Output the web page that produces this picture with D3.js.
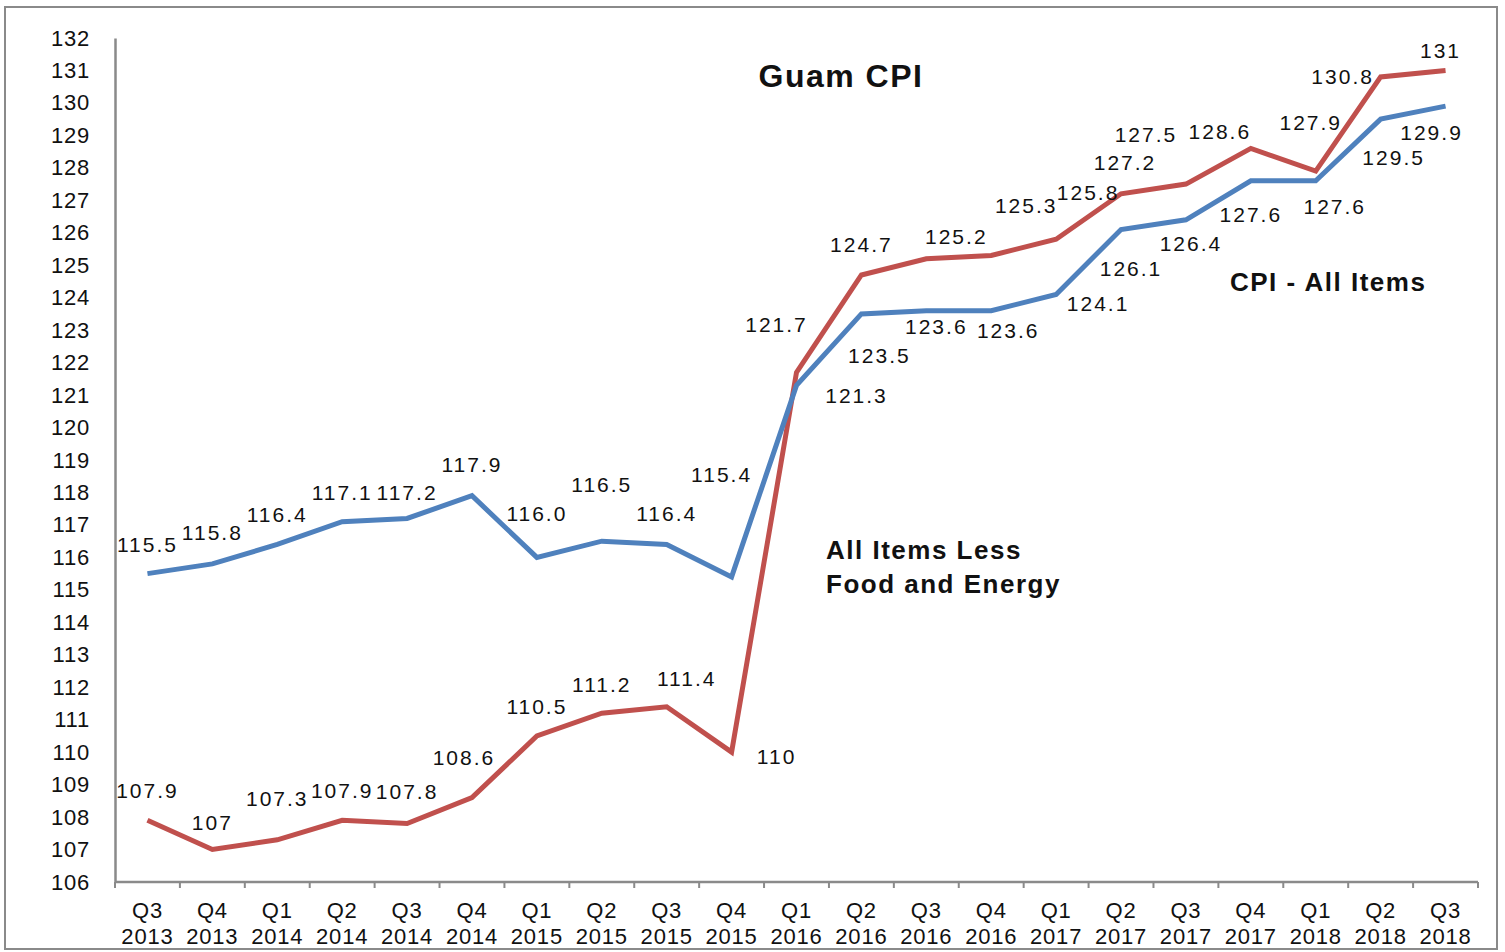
<!DOCTYPE html>
<html>
<head>
<meta charset="utf-8">
<script src="https://cdn.jsdelivr.net/npm/d3@7"></script>
<style>
  body { margin: 0; background: #fff; }
  svg { font-family: "Liberation Sans", Arial, sans-serif; }
</style>
</head>
<body>
<div id="chart"></div>
<script>
// Data
const quarters = ["Q3", "Q4", "Q1", "Q2", "Q3", "Q4", "Q1", "Q2", "Q3", "Q4", "Q1",
                  "Q2", "Q3", "Q4", "Q1", "Q2", "Q3", "Q4", "Q1", "Q2", "Q3"];
const years = ["2013", "2013", "2014", "2014", "2014", "2014", "2015", "2015", "2015", "2015", "2016",
               "2016", "2016", "2016", "2017", "2017", "2017", "2017", "2018", "2018", "2018"];
const cpiAll = [107.9, 107, 107.3, 107.9, 107.8, 108.6, 110.5, 111.2, 111.4, 110, 121.7,
                124.7, 125.2, 125.3, 125.8, 127.2, 127.5, 128.6, 127.9, 130.8, 131];
const cpiCore = [115.5, 115.8, 116.4, 117.1, 117.2, 117.9, 116.0, 116.5, 116.4, 115.4, 121.3,
                 123.5, 123.6, 123.6, 124.1, 126.1, 126.4, 127.6, 127.6, 129.5, 129.9];
const yTicks = d3.range(106, 133, 1);

// Label nudges [dx, dy] relative to each point (layout only)
const redNudge = [[0,-22],[0,-20],[0,-34],[0,-22],[0,-25],[-8,-33],[0,-22],[0,-21],[20,-21],[45,12],[-20,-40],
                  [0,-23],[30,-15],[35,-42],[32,-39],[4,-24],[-40,-42],[-31,-9],[-5,-41],[-38,7],[-5,-12]];
const blueNudge = [[0,-22],[0,-24],[0,-22],[0,-22],[0,-18],[0,-24],[0,-36],[0,-49],[0,-23],[-10,-95],[60,18],
                   [18,49],[10,23],[17,27],[42,17],[10,46],[5,31],[0,41],[19,33],[13,46],[-14,34]];

const cats = quarters.map((q, i) => q + " " + years[i]);
const series = [
  { name: "CPI - All Items", values: cpiAll, colour: "#C0504D", fmt: v => String(v), nudge: redNudge },
  { name: "All Items Less Food and Energy", values: cpiCore, colour: "#4F81BD", fmt: v => v.toFixed(1), nudge: blueNudge }
];

const width = 1505, height = 952;
const margin = { top: 38, right: 27, bottom: 70, left: 115 };

const svg = d3.select("#chart").append("svg")
    .attr("width", width)
    .attr("height", height);

// outer frame
svg.append("rect")
    .attr("x", 5).attr("y", 7)
    .attr("width", 1492).attr("height", 942)
    .attr("fill", "none")
    .attr("stroke", "#8a8a8a")
    .attr("stroke-width", 2);

const xScale = d3.scaleBand()
    .domain(cats)
    .range([margin.left, width - margin.right]);

const yScale = d3.scaleLinear()
    .domain([106, 132])
    .range([height - margin.bottom, margin.top]);

// y axis: line only, labels on the left
const yAxis = svg.append("g")
    .attr("transform", `translate(${margin.left},0)`)
    .call(d3.axisLeft(yScale).tickValues(yTicks).tickSize(0).tickPadding(25));
yAxis.select(".domain").attr("stroke", "#8a8a8a").attr("stroke-width", 2.5);
yAxis.selectAll("text")
    .style("font-size", "22px")
    .style("letter-spacing", "0.8px")
    .attr("fill", "#111");

// x axis with tick marks at category boundaries
const xAxisG = svg.append("g")
    .attr("transform", `translate(0,${height - margin.bottom})`);
xAxisG.append("line")
    .attr("x1", margin.left).attr("x2", width - margin.right)
    .attr("stroke", "#8a8a8a").attr("stroke-width", 2.5);
xAxisG.selectAll(".bound")
    .data(cats.concat(["end"]))
    .enter().append("line")
    .attr("x1", (d, i) => i < cats.length ? xScale(d) : xScale.range()[1])
    .attr("x2", (d, i) => i < cats.length ? xScale(d) : xScale.range()[1])
    .attr("y1", 0).attr("y2", 6)
    .attr("stroke", "#8a8a8a").attr("stroke-width", 2);

const xLabels = xAxisG.selectAll(".xlab")
    .data(cats)
    .enter().append("text")
    .attr("text-anchor", "middle")
    .style("font-size", "22px")
    .style("letter-spacing", "0.8px")
    .attr("fill", "#111");
xLabels.append("tspan")
    .attr("x", d => xScale(d) + xScale.bandwidth() / 2)
    .attr("y", 36)
    .text((d, i) => quarters[i]);
xLabels.append("tspan")
    .attr("x", d => xScale(d) + xScale.bandwidth() / 2)
    .attr("y", 62)
    .text((d, i) => years[i]);

// lines
const line = d3.line()
    .x((d, i) => xScale(cats[i]) + xScale.bandwidth() / 2)
    .y(d => yScale(d));

svg.selectAll(".series")
    .data(series)
    .enter().append("path")
    .attr("class", "series")
    .attr("d", d => line(d.values))
    .attr("fill", "none")
    .attr("stroke", d => d.colour)
    .attr("stroke-width", 5)
    .attr("stroke-linejoin", "miter");

// data labels
series.forEach(s => {
  svg.append("g").selectAll("text")
      .data(s.values)
      .enter().append("text")
      .attr("x", (d, i) => xScale(cats[i]) + xScale.bandwidth() / 2 + s.nudge[i][0])
      .attr("y", (d, i) => yScale(d) + s.nudge[i][1])
      .attr("text-anchor", "middle")
      .style("font-size", "21px")
      .style("letter-spacing", "2px")
      .attr("fill", "#111")
      .text(d => s.fmt(d));
});

// title and series annotations
svg.append("text")
    .attr("x", 841).attr("y", 87)
    .attr("text-anchor", "middle")
    .style("font-size", "32px")
    .style("font-weight", "bold")
    .style("letter-spacing", "1.5px")
    .attr("fill", "#111")
    .text("Guam CPI");

svg.append("text")
    .attr("x", 1230).attr("y", 291)
    .style("font-size", "26px")
    .style("font-weight", "bold")
    .style("letter-spacing", "1.5px")
    .attr("fill", "#111")
    .text("CPI - All Items");

const core = svg.append("text")
    .style("font-size", "26px")
    .style("font-weight", "bold")
    .style("letter-spacing", "1.5px")
    .attr("fill", "#111");
core.append("tspan").attr("x", 826).attr("y", 559).text("All Items Less");
core.append("tspan").attr("x", 826).attr("y", 593).text("Food and Energy");
</script>
</body>
</html>
